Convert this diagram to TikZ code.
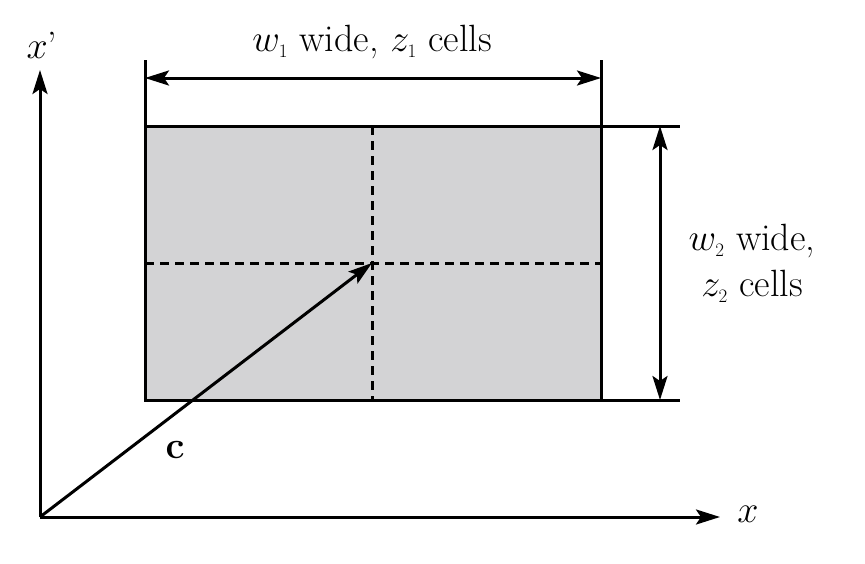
\RequirePackage{fix-cm}
\documentclass[tikz,border=0pt]{standalone}
\usetikzlibrary{arrows.meta}
\begin{document}
\begin{tikzpicture}[x=1pt,y=-1pt,line width=3pt,
  arr/.style={-{Stealth[length=24pt,width=15pt,inset=5pt]}},
  darr/.style={{Stealth[length=24pt,width=15pt,inset=5pt]}-{Stealth[length=24pt,width=15pt,inset=5pt]}},
  lab/.style={font=\fontsize{38}{46}\selectfont,inner sep=0pt}]
\useasboundingbox (0,0) rectangle (865,563);
\coordinate (O) at (40,517);
\coordinate (C) at (372,263);
\fill[fill={rgb,255:red,211;green,211;blue,213}] (145,126) rectangle (601,400);
\draw (145,126) rectangle (601,400);
\draw[dash pattern=on 9pt off 6pt] (372,126) -- (372,400);
\draw[dash pattern=on 9pt off 6pt] (145,263) -- (601,263);
\draw (601,126) -- (680,126);
\draw (601,400) -- (680,400);
\draw (145,60) -- (145,126);
\draw (601,60) -- (601,126);
\coordinate (t1) at (145,78); \coordinate (t2) at (601,78);
\coordinate (r1) at (660,126); \coordinate (r2) at (660,400);
\draw[darr] (t1) -- (t2);
\draw[darr] (r1) -- (r2);
\coordinate (xe) at (720,517); \coordinate (ye) at (40,70);
\draw[arr] (O) -- (xe);
\draw[arr] (O) -- (ye);
\draw[arr] (O) -- (C);
\node[lab] (xl) at (748,514) {$x$};
\node[lab] (yl) at (42,45) {$x$'};
\node[lab] (cl) at (175,450) {$\mathbf{c}$};
\node[lab] (tl) at (372,42) {$w_{\scriptscriptstyle 1}$ wide, $z_{\scriptscriptstyle 1}$ cells};
\node[lab,align=center] (rl) at (752,263) {$w_{\scriptscriptstyle 2}$ wide,\\ $z_{\scriptscriptstyle 2}$ cells};
\end{tikzpicture}
\end{document}
